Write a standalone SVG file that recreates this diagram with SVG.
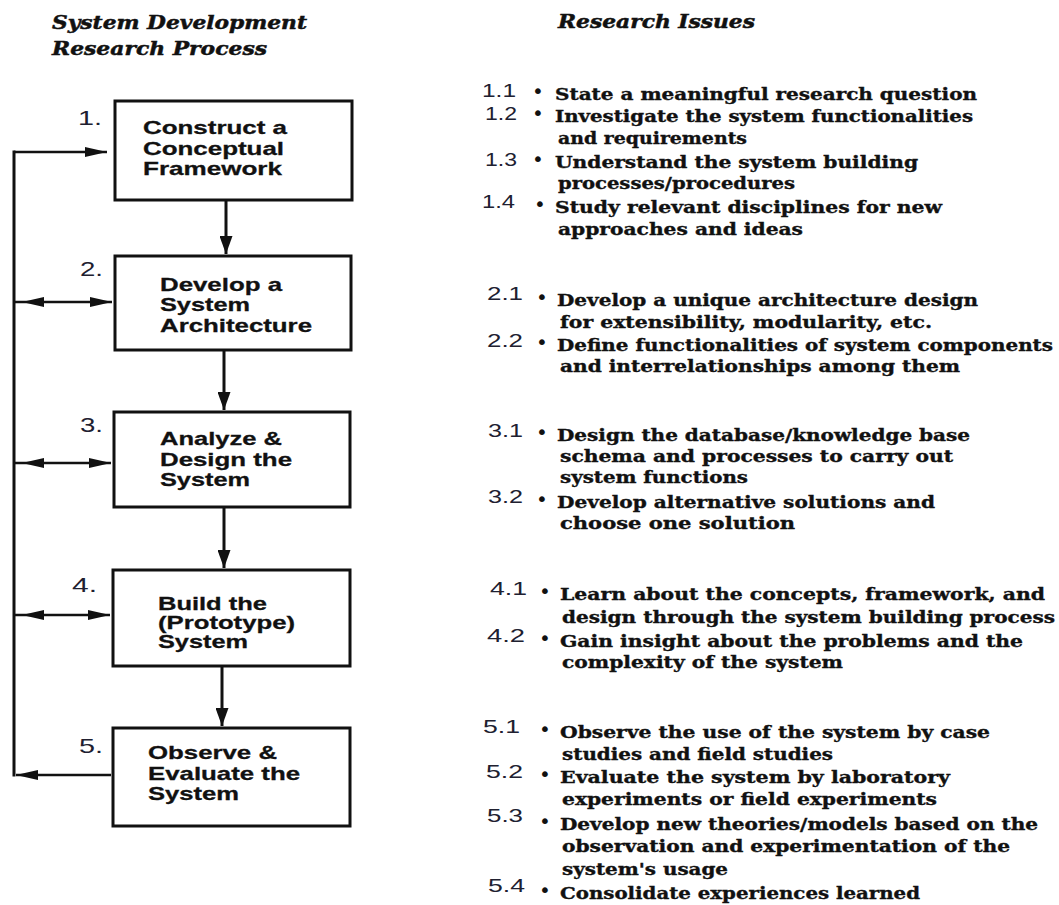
<svg xmlns="http://www.w3.org/2000/svg" width="1059" height="905" viewBox="0 0 1059 905">
<style>
.box{fill:#fff;stroke:#111;stroke-width:3}
.bt{font-family:"Liberation Sans",Arial,sans-serif;font-weight:bold;font-size:19px;fill:#111;stroke:#111;stroke-width:0.3}
.lbl{font-family:"Liberation Sans",Arial,sans-serif;font-size:21px;fill:#202030}
.hd{font-family:"DejaVu Serif",serif;font-weight:bold;font-style:italic;font-size:19px;fill:#111;stroke:#111;stroke-width:0.5}
.it{font-family:"DejaVu Serif",serif;font-weight:bold;font-size:16px;fill:#111;stroke:#111;stroke-width:0.35}
.num{font-family:"Liberation Sans",Arial,sans-serif;font-size:19px;fill:#202030}
.bul{font-family:"DejaVu Sans",sans-serif;font-size:20px;fill:#111;text-anchor:middle}
.con{stroke:#111;stroke-width:3;fill:none}
.conh{stroke:#111;stroke-width:2.5;fill:none}
</style>
<defs>
<marker id="arrV" markerUnits="userSpaceOnUse" markerWidth="18" markerHeight="13" refX="18" refY="6.5" orient="auto">
<path d="M0,0 L18,6.5 L0,13 z" fill="#111"/>
</marker>
<marker id="arrH" markerUnits="userSpaceOnUse" markerWidth="22" markerHeight="10" refX="22" refY="5" orient="auto">
<path d="M0,0 L22,5 L0,10 z" fill="#111"/>
</marker>
<marker id="arrHoff" markerUnits="userSpaceOnUse" markerWidth="30" markerHeight="10" refX="0" refY="5" orient="0">
<path d="M8,5 L30,0 L30,10 z" fill="#111"/>
</marker>
</defs>
<rect width="1059" height="905" fill="#fff"/>

<g id="headers">
<text class="hd" x="52" y="29" textLength="255" lengthAdjust="spacingAndGlyphs">System Development</text>
<text class="hd" x="52" y="55" textLength="215" lengthAdjust="spacingAndGlyphs">Research Process</text>
<text class="hd" x="558" y="28" textLength="197" lengthAdjust="spacingAndGlyphs">Research Issues</text>
</g>

<g id="connectors">
<path class="con" d="M14,150.5 V776.5"/>
<path class="conh" d="M14,152 H107" marker-end="url(#arrH)"/>
<path class="conh" d="M14,302 H112" marker-start="url(#arrHoff)" marker-end="url(#arrH)"/>
<path class="conh" d="M14,463 H111" marker-start="url(#arrHoff)" marker-end="url(#arrH)"/>
<path class="conh" d="M14,615 H110" marker-start="url(#arrHoff)" marker-end="url(#arrH)"/>
<path class="conh" d="M111,775 H16" marker-end="url(#arrH)"/>
<path class="con" d="M226,201 V254" marker-end="url(#arrV)"/>
<path class="con" d="M224,351 V410" marker-end="url(#arrV)"/>
<path class="con" d="M224,508 V568" marker-end="url(#arrV)"/>
<path class="con" d="M222,667 V726" marker-end="url(#arrV)"/>
</g>

<g id="node1">
<rect class="box" x="115" y="101" width="237" height="99"/>
<text class="lbl" x="78" y="125" textLength="24" lengthAdjust="spacingAndGlyphs">1.</text>
<text class="bt" x="143" y="134" textLength="144" lengthAdjust="spacingAndGlyphs">Construct a</text>
<text class="bt" x="143" y="155" textLength="141" lengthAdjust="spacingAndGlyphs">Conceptual</text>
<text class="bt" x="143" y="175" textLength="139" lengthAdjust="spacingAndGlyphs">Framework</text>
</g>
<g id="node2">
<rect class="box" x="115" y="256" width="236" height="94"/>
<text class="lbl" x="80" y="276" textLength="23" lengthAdjust="spacingAndGlyphs">2.</text>
<text class="bt" x="160" y="291" textLength="122" lengthAdjust="spacingAndGlyphs">Develop a</text>
<text class="bt" x="160" y="311" textLength="90" lengthAdjust="spacingAndGlyphs">System</text>
<text class="bt" x="160" y="332" textLength="152" lengthAdjust="spacingAndGlyphs">Architecture</text>
</g>
<g id="node3">
<rect class="box" x="114" y="412" width="236" height="95"/>
<text class="lbl" x="80" y="432" textLength="23" lengthAdjust="spacingAndGlyphs">3.</text>
<text class="bt" x="160" y="445" textLength="122" lengthAdjust="spacingAndGlyphs">Analyze &amp;</text>
<text class="bt" x="160" y="466" textLength="132" lengthAdjust="spacingAndGlyphs">Design the</text>
<text class="bt" x="160" y="486" textLength="90" lengthAdjust="spacingAndGlyphs">System</text>
</g>
<g id="node4">
<rect class="box" x="113" y="570" width="237" height="96"/>
<text class="lbl" x="72" y="592" textLength="25" lengthAdjust="spacingAndGlyphs">4.</text>
<text class="bt" x="158" y="610" textLength="109" lengthAdjust="spacingAndGlyphs">Build the</text>
<text class="bt" x="158" y="629" textLength="137" lengthAdjust="spacingAndGlyphs">(Prototype)</text>
<text class="bt" x="158" y="648" textLength="90" lengthAdjust="spacingAndGlyphs">System</text>
</g>
<g id="node5">
<rect class="box" x="113" y="728" width="237" height="98"/>
<text class="lbl" x="79" y="753" textLength="24" lengthAdjust="spacingAndGlyphs">5.</text>
<text class="bt" x="148" y="759" textLength="129" lengthAdjust="spacingAndGlyphs">Observe &amp;</text>
<text class="bt" x="148" y="780" textLength="152" lengthAdjust="spacingAndGlyphs">Evaluate the</text>
<text class="bt" x="148" y="800" textLength="91" lengthAdjust="spacingAndGlyphs">System</text>
</g>

<g id="issues1">
<text class="num" x="482" y="97" textLength="34" lengthAdjust="spacingAndGlyphs">1.1</text>
<text class="bul" x="538" y="98">•</text>
<text class="it" x="555" y="100" textLength="422" lengthAdjust="spacingAndGlyphs">State a meaningful research question</text>
<text class="num" x="485" y="120" textLength="32" lengthAdjust="spacingAndGlyphs">1.2</text>
<text class="bul" x="538" y="120">•</text>
<text class="it" x="555" y="122" textLength="418" lengthAdjust="spacingAndGlyphs">Investigate the system functionalities</text>
<text class="it" x="558" y="144" textLength="189" lengthAdjust="spacingAndGlyphs">and requirements</text>
<text class="num" x="485" y="166" textLength="32" lengthAdjust="spacingAndGlyphs">1.3</text>
<text class="bul" x="538" y="166">•</text>
<text class="it" x="555" y="168" textLength="363" lengthAdjust="spacingAndGlyphs">Understand the system building</text>
<text class="it" x="558" y="189" textLength="237" lengthAdjust="spacingAndGlyphs">processes/procedures</text>
<text class="num" x="482" y="208" textLength="33" lengthAdjust="spacingAndGlyphs">1.4</text>
<text class="bul" x="540" y="211">•</text>
<text class="it" x="555" y="213" textLength="387" lengthAdjust="spacingAndGlyphs">Study relevant disciplines for new</text>
<text class="it" x="558" y="235" textLength="245" lengthAdjust="spacingAndGlyphs">approaches and ideas</text>
</g>

<g id="issues2">
<text class="num" x="487" y="300" textLength="36" lengthAdjust="spacingAndGlyphs">2.1</text>
<text class="bul" x="542" y="304">•</text>
<text class="it" x="557" y="306" textLength="421" lengthAdjust="spacingAndGlyphs">Develop a unique architecture design</text>
<text class="it" x="560" y="328" textLength="372" lengthAdjust="spacingAndGlyphs">for extensibility, modularity, etc.</text>
<text class="num" x="487" y="347" textLength="36" lengthAdjust="spacingAndGlyphs">2.2</text>
<text class="bul" x="542" y="349">•</text>
<text class="it" x="557" y="351" textLength="496" lengthAdjust="spacingAndGlyphs">Define functionalities of system components</text>
<text class="it" x="560" y="372" textLength="400" lengthAdjust="spacingAndGlyphs">and interrelationships among them</text>
</g>

<g id="issues3">
<text class="num" x="488" y="437" textLength="35" lengthAdjust="spacingAndGlyphs">3.1</text>
<text class="bul" x="542" y="439">•</text>
<text class="it" x="557" y="441" textLength="413" lengthAdjust="spacingAndGlyphs">Design the database/knowledge base</text>
<text class="it" x="560" y="462" textLength="393" lengthAdjust="spacingAndGlyphs">schema and processes to carry out</text>
<text class="it" x="560" y="483" textLength="188" lengthAdjust="spacingAndGlyphs">system functions</text>
<text class="num" x="488" y="503" textLength="35" lengthAdjust="spacingAndGlyphs">3.2</text>
<text class="bul" x="542" y="506">•</text>
<text class="it" x="557" y="508" textLength="378" lengthAdjust="spacingAndGlyphs">Develop alternative solutions and</text>
<text class="it" x="560" y="529" textLength="235" lengthAdjust="spacingAndGlyphs">choose one solution</text>
</g>

<g id="issues4">
<text class="num" x="490" y="595" textLength="37" lengthAdjust="spacingAndGlyphs">4.1</text>
<text class="bul" x="545" y="598">•</text>
<text class="it" x="560" y="600" textLength="485" lengthAdjust="spacingAndGlyphs">Learn about the concepts, framework, and</text>
<text class="it" x="562" y="623" textLength="493" lengthAdjust="spacingAndGlyphs">design through the system building process</text>
<text class="num" x="487" y="642" textLength="38" lengthAdjust="spacingAndGlyphs">4.2</text>
<text class="bul" x="545" y="645">•</text>
<text class="it" x="560" y="647" textLength="463" lengthAdjust="spacingAndGlyphs">Gain insight about the problems and the</text>
<text class="it" x="562" y="668" textLength="281" lengthAdjust="spacingAndGlyphs">complexity of the system</text>
</g>

<g id="issues5">
<text class="num" x="483" y="733" textLength="37" lengthAdjust="spacingAndGlyphs">5.1</text>
<text class="bul" x="545" y="736">•</text>
<text class="it" x="560" y="738" textLength="430" lengthAdjust="spacingAndGlyphs">Observe the use of the system by case</text>
<text class="it" x="562" y="760" textLength="271" lengthAdjust="spacingAndGlyphs">studies and field studies</text>
<text class="num" x="486" y="778" textLength="37" lengthAdjust="spacingAndGlyphs">5.2</text>
<text class="bul" x="545" y="781">•</text>
<text class="it" x="560" y="783" textLength="390" lengthAdjust="spacingAndGlyphs">Evaluate the system by laboratory</text>
<text class="it" x="562" y="805" textLength="375" lengthAdjust="spacingAndGlyphs">experiments or field experiments</text>
<text class="num" x="487" y="822" textLength="36" lengthAdjust="spacingAndGlyphs">5.3</text>
<text class="bul" x="545" y="828">•</text>
<text class="it" x="560" y="830" textLength="478" lengthAdjust="spacingAndGlyphs">Develop new theories/models based on the</text>
<text class="it" x="562" y="852" textLength="448" lengthAdjust="spacingAndGlyphs">observation and experimentation of the</text>
<text class="it" x="562" y="875" textLength="166" lengthAdjust="spacingAndGlyphs">system's usage</text>
<text class="num" x="488" y="892" textLength="37" lengthAdjust="spacingAndGlyphs">5.4</text>
<text class="bul" x="545" y="897">•</text>
<text class="it" x="560" y="899" textLength="360" lengthAdjust="spacingAndGlyphs">Consolidate experiences learned</text>
</g>
</svg>
